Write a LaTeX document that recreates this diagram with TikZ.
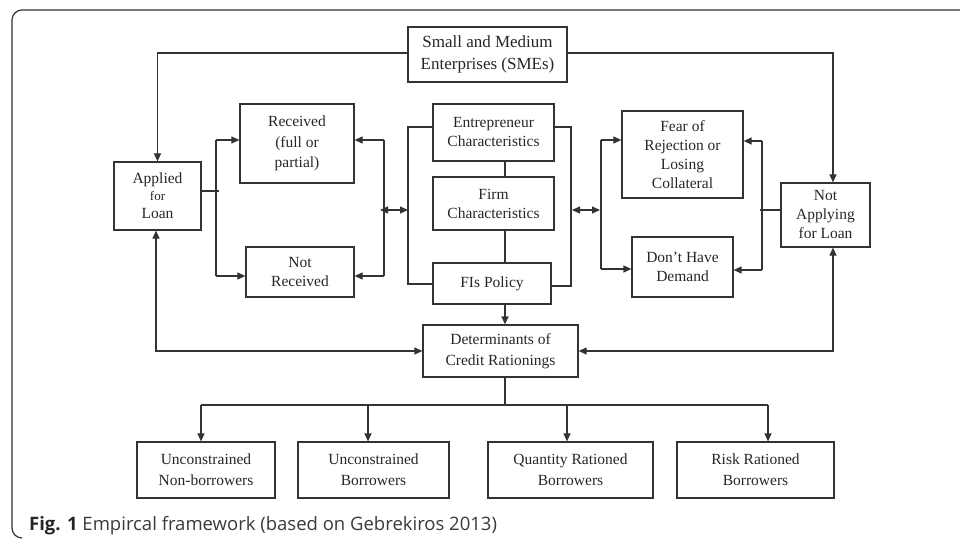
\documentclass[tikz,border=0pt]{standalone}
\usepackage{fontspec}
\setmainfont{Liberation Serif}
\newfontfamily\capfont{Open Sans}
\usetikzlibrary{arrows.meta,calc}
\definecolor{ln}{HTML}{333333}
\definecolor{capgray}{HTML}{3A3A3A}
\begin{document}
\begin{tikzpicture}[x=1pt,y=-1pt,
  box/.style={draw=ln,line width=1.2pt,inner sep=0pt,align=center,text=black!85,
    font=\fontsize{15.5}{19}\selectfont},
  conn/.style={draw=ln,line width=1.2pt},
  arr/.style={conn,-{Triangle[length=8pt,width=7pt]}},
  darr/.style={conn,{Triangle[length=8pt,width=7pt]}-{Triangle[length=8pt,width=7pt]}}]
\useasboundingbox (0,0) rectangle (960,540);
% outer frame
\draw[ln,line width=1.2pt,rounded corners=10pt] (960,10) -- (12,10) -- (12,538) -- (22,538);
% nodes
\node[box,minimum width=159pt,minimum height=55pt,font=\fontsize{17}{21.5}\selectfont] (smes) at (487.5,54.5) {Small and Medium\\Enterprises (SMEs)};
\node[box,minimum width=87pt,minimum height=68pt] (app) at (157.5,196) {Applied\\[-2pt]{\fontsize{13}{15}\selectfont for}\\[-1pt]Loan};
\node[box,minimum width=114pt,minimum height=79pt] (rec) at (297,143.5) {Received\\[2pt](full or\\[1pt]partial)};
\node[box,minimum width=108pt,minimum height=50pt] (nrec) at (300,272) {Not\\Received};
\node[box,minimum width=121pt,minimum height=57pt] (ent) at (493.5,132.5) {Entrepreneur\\Characteristics};
\node[box,minimum width=121pt,minimum height=53pt] (firm) at (493.5,203.5) {Firm\\Characteristics};
\node[box,minimum width=118pt,minimum height=41pt] (fis) at (492,283.5) {FIs Policy};
\node[box,minimum width=121pt,minimum height=87pt] (fear) at (682.5,154.5) {Fear of\\Rejection or\\Losing\\Collateral};
\node[box,minimum width=101pt,minimum height=60pt] (dem) at (682.5,267) {Don’t Have\\Demand};
\node[box,minimum width=89pt,minimum height=64pt] (napp) at (825.5,215) {Not\\Applying\\for Loan};
\node[box,minimum width=155pt,minimum height=52pt] (det) at (500.5,351) {Determinants of\\[2pt]Credit Rationings};
\node[box,minimum width=138pt,minimum height=56pt] (b1) at (206,470) {Unconstrained\\[2pt]Non-borrowers};
\node[box,minimum width=151pt,minimum height=56pt] (b2) at (373.5,470) {Unconstrained\\[2pt]Borrowers};
\node[box,minimum width=165pt,minimum height=56pt] (b3) at (570.5,470) {Quantity Rationed\\[2pt]Borrowers};
\node[box,minimum width=157pt,minimum height=56pt] (b4) at (755.5,470) {Risk Rationed\\[2pt]Borrowers};
% top connectors
\coordinate (sy) at (0,53);
\coordinate (nx) at (833,0);
\draw[arr] (smes.west |- sy) -| (app.north);
\draw[arr] (smes.east |- sy) -| (nx |- napp.north);
% applied to received / not received
\coordinate (aL) at (219,191);
\draw[conn] (aL -| app.east) -- (aL);
\coordinate (lt) at (216,140); \coordinate (lb) at (216,276);
\draw[conn] (lt) -- (lb);
\draw[arr] (lt) -- (lt -| rec.west);
\draw[arr] (lb) -- (lb -| nrec.west);
\coordinate (rt) at (384,140); \coordinate (rb) at (384,276);
\draw[conn] (rt) -- (rb);
\draw[arr] (rt) -- (rt -| rec.east);
\draw[arr] (rb) -- (rb -| nrec.east);
\coordinate (d1a) at (380,210); \coordinate (d1b) at (408,210);
\draw[darr] (d1a) -- (d1b);
% center brackets
\coordinate (clt) at (408,127); \coordinate (clb) at (408,284);
\draw[conn] (clt -| ent.west) -- (clt) -- (clb) -- (clb -| fis.west);
\coordinate (crt) at (571,127); \coordinate (crb) at (571,286);
\draw[conn] (crt -| ent.east) -- (crt) -- (crb) -- (crb -| fis.east);
\coordinate (d2a) at (572,210); \coordinate (d2b) at (600,210);
\draw[darr] (d2a) -- (d2b);
\coordinate (cx) at (505,0);
\draw[conn] (cx |- ent.south) -- (cx |- firm.north);
\draw[conn] (cx |- firm.south) -- (cx |- fis.north);
\draw[arr] (cx |- fis.south) -- (cx |- det.north);
% fear / demand
\coordinate (flt) at (601,140); \coordinate (flb) at (601,269);
\draw[conn] (flt) -- (flb);
\draw[arr] (flt) -- (flt -| fear.west);
\draw[arr] (flb) -- (flb -| dem.west);
\coordinate (frt) at (762,141); \coordinate (frb) at (762,270);
\draw[conn] (frt) -- (frb);
\draw[arr] (frt) -- (frt -| fear.east);
\draw[arr] (frb) -- (frb -| dem.east);
\coordinate (nl) at (760,210);
\draw[conn] (nl -| napp.west) -- (nl);
% to determinants
\coordinate (ax) at (156,0);
\draw[darr] (ax |- app.south) |- (det.west);
\draw[darr] (nx |- napp.south) |- (det.east);
% bottom distribution
\coordinate (hy) at (0,405);
\draw[conn] (cx |- det.south) -- (cx |- hy);
\coordinate (h1) at (201,405); \coordinate (h2) at (368,405);
\coordinate (h3) at (567,405); \coordinate (h4) at (768,405);
\draw[conn] (h1) -- (h4);
\draw[arr] (h1) -- (h1 |- b1.north);
\draw[arr] (h2) -- (h2 |- b2.north);
\draw[arr] (h3) -- (h3 |- b3.north);
\draw[arr] (h4) -- (h4 |- b4.north);
% caption
\node[anchor=base west,inner sep=0pt,font=\capfont\fontsize{18.5}{22}\selectfont,text=capgray] (cap) at (29,530)
  {{\bfseries\color{black!85}Fig. 1} Empircal framework (based on Gebrekiros 2013)};
\end{tikzpicture}
\end{document}
